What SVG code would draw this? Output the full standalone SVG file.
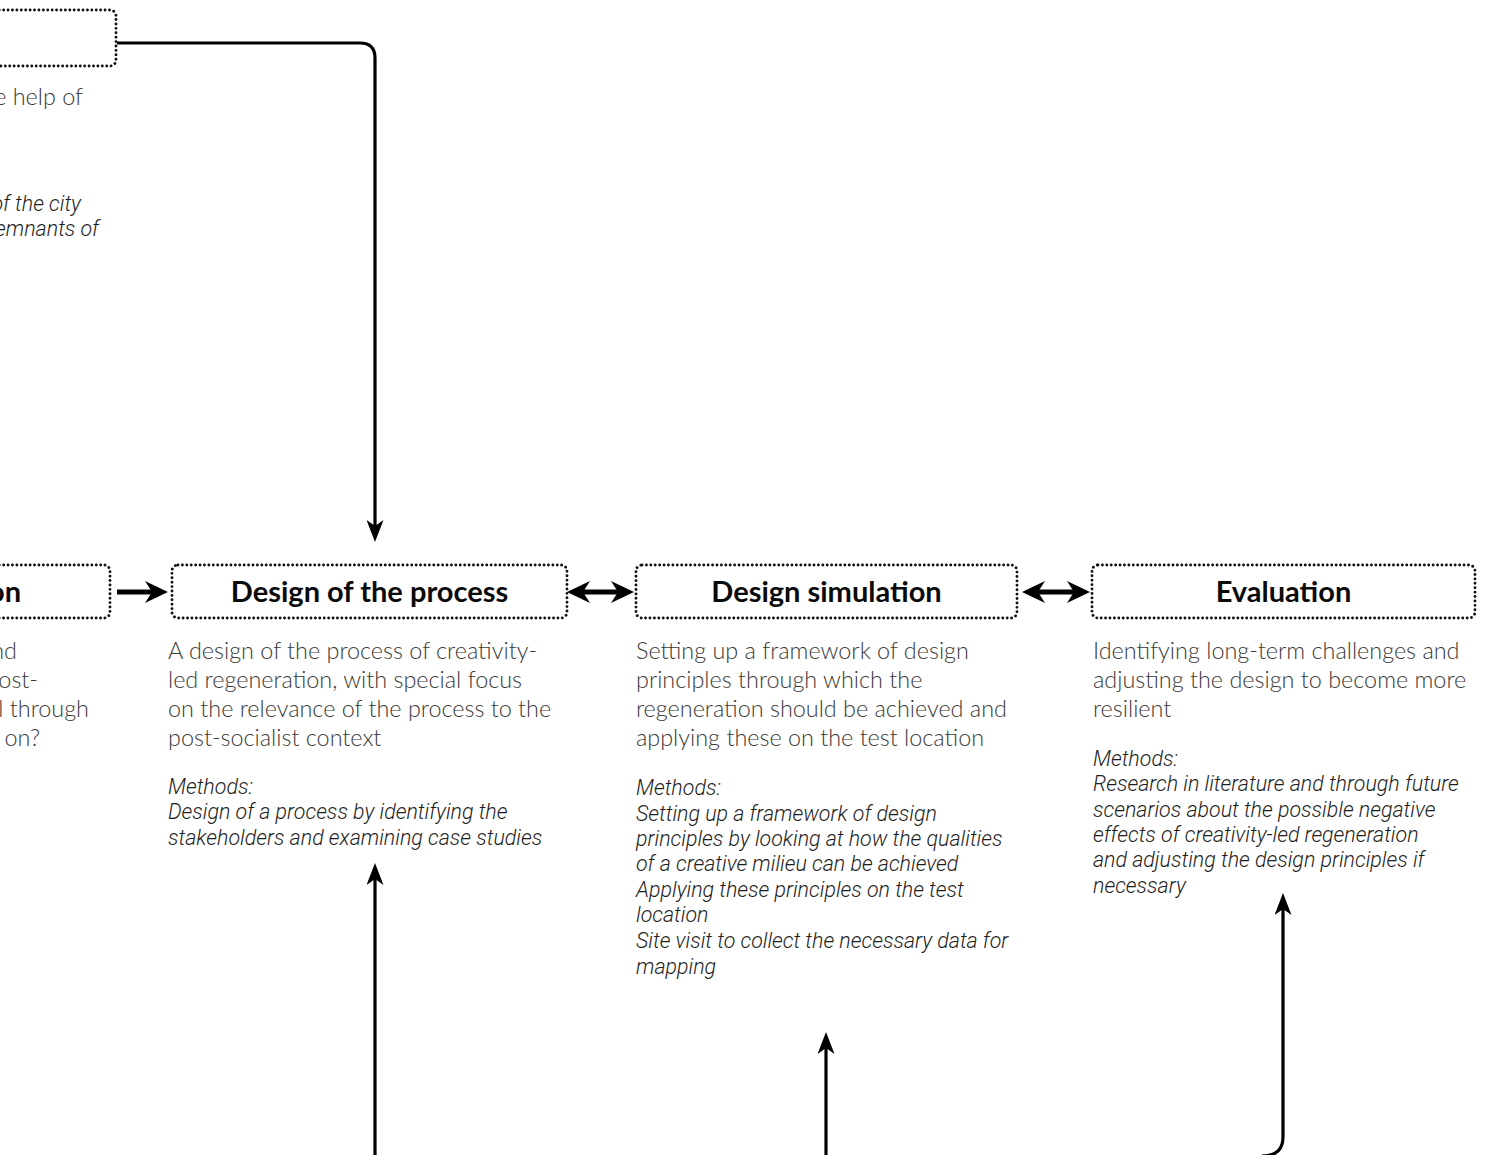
<svg xmlns="http://www.w3.org/2000/svg" width="1488" height="1155" viewBox="0 0 1488 1155">
<defs>
<style>
.box{fill:#fff;stroke:#111;stroke-width:2.9;stroke-dasharray:0.01 4.4;stroke-linecap:round}
.head{font-family:Lato,"Liberation Sans",sans-serif;font-weight:700;font-size:29px;fill:#0a0a0a;text-anchor:middle}
.body{font-family:Lato,"Liberation Sans",sans-serif;font-weight:300;font-size:23.4px;fill:#3a3a3a}
.meth{font-family:Roboto,"Liberation Sans",sans-serif;font-weight:300;font-style:italic;font-size:21.4px;fill:#1e1e1e}
.con{fill:none;stroke:#000;stroke-width:3.2}
.conh{fill:none;stroke:#000;stroke-width:5}
</style>
<marker id="ah" markerUnits="userSpaceOnUse" viewBox="0 0 22 17" markerWidth="22" markerHeight="17" refX="12" refY="8.5" orient="auto-start-reverse">
<path d="M0,0 L22,8.5 L0,17 L6,8.5 z" fill="#000"/>
</marker>
<marker id="ahh" markerUnits="userSpaceOnUse" viewBox="0 0 23 22" markerWidth="23" markerHeight="22" refX="12" refY="11" orient="auto-start-reverse">
<path d="M0,0 L23,11 L0,22 L7,11 z" fill="#000"/>
</marker>
</defs>
<rect width="1488" height="1155" fill="#fff"/>

<g id="node-top">
<rect class="box" x="-20" y="10" width="136" height="56" rx="6"/>
<text class="body" x="83" y="105" text-anchor="end">e help of</text>
<text class="meth" x="81" y="211" text-anchor="end">of the city</text>
<text class="meth" x="99" y="236" text-anchor="end">emnants of</text>
</g>

<g id="node-left">
<rect class="box" x="-20" y="565" width="130" height="53" rx="6"/>
<text class="head" x="21" y="602" style="text-anchor:end">on</text>
<text class="body" x="17" y="659" text-anchor="end">nd</text>
<text class="body" x="38" y="688" text-anchor="end">ost-</text>
<text class="body" x="89" y="717" text-anchor="end">l through</text>
<text class="body" x="40" y="746" text-anchor="end">on?</text>
</g>

<g id="node-process">
<rect class="box" x="172" y="565" width="395" height="53" rx="6"/>
<text class="head" x="369.5" y="602">Design of the process</text>
<text class="body" x="168" y="659">A design of the process of creativity-</text>
<text class="body" x="168" y="688">led regeneration, with special focus</text>
<text class="body" x="168" y="717">on the relevance of the process to the</text>
<text class="body" x="168" y="746">post-socialist context</text>
<text class="meth" x="168" y="794">Methods:</text>
<text class="meth" x="168" y="819">Design of a process by identifying the</text>
<text class="meth" x="168" y="845">stakeholders and examining case studies</text>
</g>

<g id="node-simulation">
<rect class="box" x="636" y="565" width="381" height="53" rx="6"/>
<text class="head" x="826.5" y="602">Design simulation</text>
<text class="body" x="636" y="659">Setting up a framework of design</text>
<text class="body" x="636" y="688">principles through which the</text>
<text class="body" x="636" y="717">regeneration should be achieved and</text>
<text class="body" x="636" y="746">applying these on the test location</text>
<text class="meth" x="636" y="795">Methods:</text>
<text class="meth" x="636" y="821">Setting up a framework of design</text>
<text class="meth" x="636" y="846">principles by looking at how the qualities</text>
<text class="meth" x="636" y="871">of a creative milieu can be achieved</text>
<text class="meth" x="636" y="897">Applying these principles on the test</text>
<text class="meth" x="636" y="922">location</text>
<text class="meth" x="636" y="948">Site visit to collect the necessary data for</text>
<text class="meth" x="636" y="974">mapping</text>
</g>

<g id="node-evaluation">
<rect class="box" x="1092" y="565" width="383" height="53" rx="6"/>
<text class="head" x="1283.5" y="602">Evaluation</text>
<text class="body" x="1093" y="659">Identifying long-term challenges and</text>
<text class="body" x="1093" y="688">adjusting the design to become more</text>
<text class="body" x="1093" y="717">resilient</text>
<text class="meth" x="1093" y="766">Methods:</text>
<text class="meth" x="1093" y="791">Research in literature and through future</text>
<text class="meth" x="1093" y="817">scenarios about the possible negative</text>
<text class="meth" x="1093" y="842">effects of creativity-led regeneration</text>
<text class="meth" x="1093" y="867">and adjusting the design principles if</text>
<text class="meth" x="1093" y="893">necessary</text>
</g>

<g id="connectors">
<path class="con" d="M117,43 H360 Q375,43 375,58 V532" marker-end="url(#ah)"/>
<path class="conh" d="M117,592 H157" marker-end="url(#ahh)"/>
<path class="conh" d="M578,592 H623" marker-start="url(#ahh)" marker-end="url(#ahh)"/>
<path class="conh" d="M1033,592 H1079" marker-start="url(#ahh)" marker-end="url(#ahh)"/>
<path class="con" d="M375,1160 V873" marker-end="url(#ah)"/>
<path class="con" d="M826,1160 V1042" marker-end="url(#ah)"/>
<path class="con" d="M1262,1156 Q1283,1156 1283,1137 V903" marker-end="url(#ah)"/>
</g>
</svg>
